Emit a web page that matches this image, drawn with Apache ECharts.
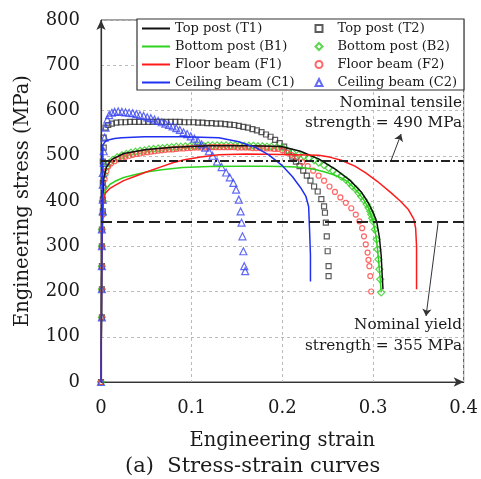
<!DOCTYPE html>
<html>
<head>
<meta charset="utf-8">
<title>Stress-strain curves</title>
<script src="https://cdn.jsdelivr.net/npm/echarts@6/dist/echarts.min.js"></script>
<style>
    html, body { margin: 0; padding: 0; background: #fff; }
    #chart { width: 481px; height: 479px; }
</style>
</head>
<body>
<div id="chart"></div>
<script>
// 轴刻度
var strainTicks = [0, 0.1, 0.2, 0.3, 0.4];
var stressTicks = [0, 100, 200, 300, 400, 500, 600, 700, 800];

// 名义强度 (MPa)
var nominalTensile = 490;
var nominalYield = 355;

// 图例名称
var lineNames = ['Top post (T1)', 'Bottom post (B1)', 'Floor beam (F1)', 'Ceiling beam (C1)'];
var markNames = ['Top post (T2)', 'Bottom post (B2)', 'Floor beam (F2)', 'Ceiling beam (C2)'];

// 试件1: 实线 [应变, 应力]
var t1 = [[0, 0], [0.001, 300], [0.002, 400], [0.003, 450], [0.006, 475], [0.012, 492], [0.025, 505], [0.05, 514],
    [0.08, 519], [0.12, 522], [0.16, 522], [0.19, 521], [0.2, 520], [0.22, 510], [0.24, 493], [0.26, 468],
    [0.275, 445], [0.287, 420], [0.295, 395], [0.3, 375], [0.304, 355], [0.307, 320], [0.309, 280],
    [0.31, 240], [0.311, 205]];
var b1 = [[0, 0], [0.001, 300], [0.002, 380], [0.003, 410], [0.005, 425], [0.01, 437], [0.015, 443], [0.025, 452],
    [0.037, 458], [0.05, 464], [0.067, 469], [0.09, 474], [0.12, 476], [0.15, 477], [0.18, 477], [0.2, 476],
    [0.215, 475], [0.225, 473], [0.235, 470], [0.245, 465], [0.255, 459], [0.265, 451], [0.272, 443],
    [0.277, 433], [0.284, 418], [0.29, 402], [0.295, 385], [0.3, 355], [0.303, 326], [0.305, 293],
    [0.306, 271], [0.307, 249], [0.308, 227], [0.309, 198]];
var f1 = [[0, 0], [0.001, 300], [0.002, 380], [0.003, 405], [0.005, 418], [0.01, 428], [0.015, 434], [0.025, 445],
    [0.037, 454], [0.05, 464], [0.067, 476], [0.08, 485], [0.092, 491], [0.11, 497], [0.13, 502], [0.16, 504],
    [0.2, 503], [0.24, 501], [0.252, 497], [0.265, 490], [0.28, 477], [0.292, 462], [0.305, 443], [0.32, 418],
    [0.33, 400], [0.339, 381], [0.345, 360], [0.347, 340], [0.348, 300], [0.348, 250], [0.348, 205]];
var c1 = [[0, 0], [0.001, 300], [0.002, 450], [0.002, 524], [0.005, 532], [0.008, 535], [0.015, 538], [0.023, 540],
    [0.048, 542], [0.09, 542], [0.13, 540], [0.152, 531], [0.171, 518], [0.185, 502], [0.2, 478], [0.211, 454],
    [0.22, 430], [0.226, 410], [0.229, 388], [0.23, 337], [0.231, 280], [0.231, 222]];

// 试件2: 散点 [应变, 应力]
var t2 = [[0, 0], [0.001, 143], [0.001, 205], [0.001, 256], [0.001, 300], [0.001, 337], [0.002, 377], [0.002, 403],
    [0.002, 440], [0.002, 487], [0.003, 518], [0.003, 540], [0.005, 562], [0.008, 568], [0.012, 571], [0.017, 573],
    [0.022, 574], [0.027, 574], [0.032, 575], [0.037, 575], [0.042, 575], [0.047, 575], [0.052, 575], [0.057, 575],
    [0.062, 575], [0.067, 575], [0.072, 575], [0.077, 575], [0.082, 575], [0.087, 575], [0.092, 574], [0.097, 574],
    [0.102, 574], [0.107, 573], [0.112, 573], [0.117, 572], [0.122, 572], [0.127, 571], [0.132, 571], [0.137, 570],
    [0.142, 569], [0.147, 568], [0.152, 566], [0.157, 564], [0.162, 562], [0.167, 559], [0.172, 556], [0.177, 552],
    [0.182, 547], [0.187, 542], [0.192, 535], [0.197, 528], [0.202, 520], [0.207, 510], [0.211, 498], [0.215, 487],
    [0.219, 477], [0.223, 467], [0.227, 456], [0.231, 445], [0.235, 432], [0.239, 421], [0.243, 404], [0.246, 388],
    [0.247, 374], [0.248, 352], [0.249, 322], [0.25, 289], [0.251, 256], [0.251, 234]];
var b2 = [[0, 0], [0.001, 143], [0.001, 205], [0.001, 256], [0.001, 300], [0.001, 337], [0.002, 370], [0.002, 400],
    [0.003, 430], [0.004, 458], [0.006, 475], [0.009, 484], [0.013, 491], [0.018, 497], [0.023, 501], [0.028, 504],
    [0.033, 507], [0.038, 509], [0.043, 511], [0.048, 512], [0.053, 514], [0.058, 515], [0.063, 516], [0.068, 517],
    [0.073, 518], [0.078, 519], [0.083, 520], [0.088, 520], [0.093, 521], [0.098, 521], [0.103, 522], [0.108, 522],
    [0.113, 522], [0.118, 523], [0.123, 523], [0.128, 523], [0.133, 523], [0.138, 523], [0.143, 523], [0.148, 523],
    [0.153, 523], [0.158, 522], [0.163, 522], [0.168, 522], [0.173, 521], [0.178, 521], [0.183, 520], [0.188, 520],
    [0.194, 519], [0.2, 518], [0.205, 512], [0.211, 507], [0.218, 502], [0.224, 499], [0.229, 495], [0.235, 490],
    [0.24, 485], [0.246, 479], [0.251, 473], [0.256, 467], [0.26, 461], [0.265, 454], [0.27, 447], [0.274, 440],
    [0.277, 433], [0.281, 426], [0.284, 418], [0.287, 410], [0.29, 402], [0.293, 393], [0.295, 385], [0.297, 377],
    [0.298, 370], [0.299, 362], [0.3, 355], [0.302, 337], [0.304, 315], [0.305, 293], [0.306, 271], [0.307, 249],
    [0.308, 227], [0.309, 198]];
var f2 = [[0, 0], [0.001, 143], [0.001, 205], [0.001, 256], [0.001, 300], [0.001, 337], [0.002, 370], [0.002, 400],
    [0.003, 430], [0.004, 448], [0.006, 466], [0.008, 476], [0.011, 483], [0.015, 488], [0.019, 492], [0.023, 495],
    [0.027, 498], [0.031, 500], [0.035, 502], [0.039, 504], [0.043, 505], [0.047, 507], [0.051, 508], [0.055, 509],
    [0.059, 510], [0.063, 511], [0.067, 512], [0.071, 513], [0.075, 514], [0.079, 514], [0.083, 515], [0.087, 516],
    [0.091, 516], [0.095, 517], [0.099, 517], [0.103, 518], [0.107, 518], [0.111, 518], [0.115, 518], [0.119, 519],
    [0.123, 519], [0.127, 519], [0.131, 519], [0.135, 519], [0.139, 519], [0.143, 519], [0.147, 519], [0.151, 518],
    [0.155, 518], [0.159, 518], [0.163, 518], [0.167, 517], [0.171, 517], [0.175, 517], [0.179, 516], [0.183, 516],
    [0.187, 516], [0.191, 515], [0.195, 515], [0.2, 512], [0.205, 507], [0.21, 502], [0.216, 495], [0.222, 486],
    [0.228, 477], [0.234, 467], [0.24, 456], [0.246, 445], [0.252, 432], [0.258, 420], [0.264, 408], [0.27, 396],
    [0.276, 384], [0.281, 370], [0.285, 355], [0.288, 340], [0.29, 322], [0.292, 304], [0.294, 286], [0.295, 270],
    [0.296, 256], [0.297, 234], [0.298, 200]];
var c2 = [[0, 0], [0.001, 143], [0.001, 205], [0.001, 256], [0.001, 300], [0.001, 337], [0.002, 377], [0.002, 403],
    [0.002, 436], [0.002, 462], [0.003, 484], [0.003, 510], [0.004, 540], [0.005, 562], [0.007, 580], [0.009, 590],
    [0.012, 595], [0.015, 597], [0.019, 598], [0.023, 597], [0.027, 596], [0.031, 595], [0.035, 594], [0.039, 592],
    [0.043, 590], [0.047, 588], [0.051, 585], [0.055, 583], [0.059, 580], [0.063, 577], [0.067, 574], [0.071, 571],
    [0.075, 568], [0.079, 565], [0.083, 561], [0.087, 557], [0.091, 552], [0.095, 548], [0.099, 543], [0.103, 538],
    [0.107, 532], [0.111, 525], [0.115, 518], [0.119, 510], [0.123, 500], [0.128, 487], [0.133, 475], [0.138, 463],
    [0.142, 452], [0.146, 440], [0.149, 425], [0.152, 403], [0.154, 377], [0.155, 352], [0.156, 322], [0.157, 289],
    [0.158, 256], [0.159, 245]];

var FONT = '"DejaVu Serif", "Liberation Serif", serif';
var TXT = '#1a1a1a';

var myChart = echarts.init(document.getElementById('chart'));

// 实线
function lineSeries(name, data, color) {
    return {
        name: name,
        type: 'line',
        data: data,
        symbol: 'none',
        z: 4,
        lineStyle: { color: color, width: 1.5 },
        itemStyle: { color: color }
    };
}

// 空心散点
function markSeries(name, data, color, symbol, size) {
    return {
        name: name,
        type: 'scatter',
        data: data,
        symbol: symbol,
        symbolSize: size,
        z: 3,
        itemStyle: { color: 'transparent', borderColor: color, borderWidth: 1.2 }
    };
}

var series = [
    markSeries(markNames[0], t2, '#333333', 'rect', 5),
    markSeries(markNames[1], b2, '#33cc22', 'diamond', 7),
    markSeries(markNames[2], f2, '#ff4040', 'circle', 5),
    markSeries(markNames[3], c2, '#3b46f0', 'triangle', 7),
    lineSeries(lineNames[0], t1, '#111111'),
    lineSeries(lineNames[1], b1, '#2fd31f'),
    lineSeries(lineNames[2], f1, '#ff1a1a'),
    lineSeries(lineNames[3], c1, '#2030f0')
];

// 名义强度线和箭头
series[4].markLine = {
    silent: true,
    symbol: 'none',
    label: { show: false },
    animation: false,
    data: [
        { yAxis: nominalTensile, lineStyle: { color: '#222', width: 2, type: [9, 3, 2, 3] } },
        { yAxis: nominalYield, lineStyle: { color: '#222', width: 2.2, type: [11, 5] } },
        [{ coord: [0.320, nominalTensile], symbol: 'none' },
         { coord: [0.331, 548], symbol: 'arrow', symbolSize: 7, lineStyle: { color: '#333', width: 1, type: 'solid' } }],
        [{ coord: [0.372, nominalYield], symbol: 'none' },
         { coord: [0.3585, 146], symbol: 'arrow', symbolSize: 7, lineStyle: { color: '#333', width: 1, type: 'solid' } }]
    ]
};

var legendText = { fontFamily: FONT, fontSize: 13, color: TXT, lineHeight: 15 };

var option = {
    animation: false,
    backgroundColor: '#fff',
    grid: { left: 101, right: 16, top: 20, bottom: 97, show: true, borderColor: '#444', borderWidth: 1 },
    legend: [{
        data: lineNames.map(function (n) { return { name: n, icon: 'rect' }; }),
        orient: 'vertical',
        left: 142,
        top: 21,
        padding: 0,
        itemWidth: 28,
        itemHeight: 2,
        itemGap: 3,
        z: 6,
        textStyle: legendText
    }, {
        data: markNames,
        orient: 'vertical',
        left: 314.5,
        top: 21,
        padding: 0,
        itemWidth: 7,
        itemHeight: 7,
        itemGap: 3,
        z: 6,
        textStyle: { fontFamily: FONT, fontSize: 13, color: TXT, lineHeight: 15, padding: [0, 0, 0, 10] }
    }],
    xAxis: {
        type: 'value',
        min: strainTicks[0],
        max: strainTicks[strainTicks.length - 1],
        interval: 0.1,
        name: 'Engineering strain',
        nameLocation: 'middle',
        nameGap: 49,
        nameTextStyle: { fontFamily: FONT, fontSize: 19.5, color: TXT },
        axisLine: { lineStyle: { color: '#333', width: 1.2 }, symbol: ['none', 'arrow'], symbolSize: [7, 10] },
        axisTick: { show: false },
        axisLabel: { fontFamily: FONT, fontSize: 18, color: TXT, margin: 17 },
        splitLine: { show: true, lineStyle: { color: '#bbb', type: [3, 3] } }
    },
    yAxis: {
        type: 'value',
        min: stressTicks[0],
        max: stressTicks[stressTicks.length - 1],
        interval: 100,
        name: 'Engineering stress (MPa)',
        nameLocation: 'middle',
        nameGap: 68,
        nameTextStyle: { fontFamily: FONT, fontSize: 19.5, color: TXT },
        axisLine: { lineStyle: { color: '#333', width: 1.2 }, symbol: ['none', 'arrow'], symbolSize: [7, 10] },
        axisTick: { show: false },
        axisLabel: { fontFamily: FONT, fontSize: 18, color: TXT, margin: 21 },
        splitLine: { show: true, lineStyle: { color: '#bbb', type: [3, 3] } }
    },
    graphic: [
        // 图例边框
        { type: 'rect', z: 5, shape: { x: 137, y: 19, width: 327, height: 71 },
          style: { fill: '#fff', stroke: '#333', lineWidth: 1.2 } },
        { type: 'text', z: 5, right: 19, top: 96,
          style: { text: 'Nominal tensile', font: '15.3px ' + FONT, fill: TXT } },
        { type: 'text', z: 5, right: 19, top: 116,
          style: { text: 'strength = 490 MPa', font: '15.3px ' + FONT, fill: TXT } },
        { type: 'text', z: 5, right: 19, top: 318,
          style: { text: 'Nominal yield', font: '15.3px ' + FONT, fill: TXT } },
        { type: 'text', z: 5, right: 19, top: 339,
          style: { text: 'strength = 355 MPa', font: '15.3px ' + FONT, fill: TXT } },
        { type: 'text', z: 5, left: 125, top: 456,
          style: { text: '(a)  Stress-strain curves', font: '21px ' + FONT, fill: TXT } }
    ],
    series: series
};

myChart.setOption(option);
</script>
</body>
</html>
